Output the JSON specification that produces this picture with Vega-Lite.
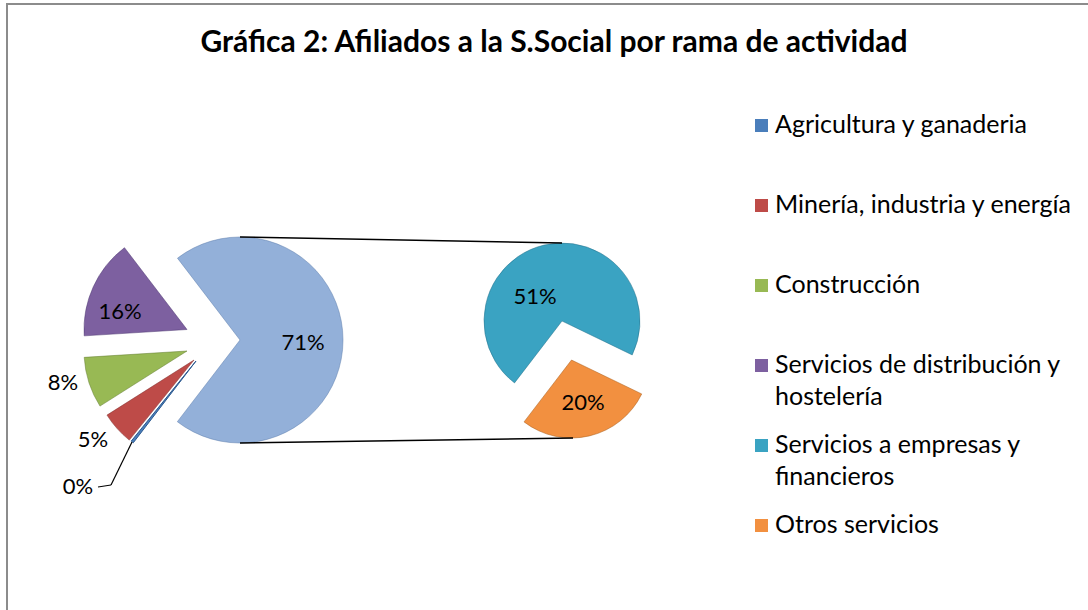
{
  "$schema": "https://vega.github.io/schema/vega-lite/v6.json",
  "width": 1100,
  "height": 620,
  "autosize": {"type": "none"},
  "padding": {"left": 7, "top": 4, "right": 0, "bottom": 0},
  "background": "white",
  "title": {
    "text": "Gráfica 2: Afiliados a la S.Social por rama de actividad",
    "font": "Lato",
    "fontSize": 30,
    "fontWeight": "bold",
    "color": "black",
    "anchor": "middle",
    "frame": "group",
    "baseline": "middle",
    "offset": -69,
    "dx": -3
  },
  "config": {
    "view": {"stroke": "#8c8c8c", "strokeWidth": 2},
    "text": {"font": "Lato", "fontSize": 22, "align": "center", "baseline": "middle"}
  },
  "data": {
    "values": [
      {"rama": "Agricultura y ganaderia", "pie": "principal", "cuota": 0.004},
      {"rama": "Minería, industria y energía", "pie": "principal", "cuota": 0.052},
      {"rama": "Construcción", "pie": "principal", "cuota": 0.080},
      {"rama": "Servicios de distribución y hostelería", "pie": "principal", "cuota": 0.156},
      {"rama": "Servicios a empresas y financieros", "pie": "secundario", "cuota": 0.508},
      {"rama": "Otros servicios", "pie": "secundario", "cuota": 0.200}
    ]
  },
  "transform": [
    {"stack": "cuota", "groupby": [], "as": ["ini", "fin"]},
    {"stack": "cuota", "groupby": ["pie"], "offset": "normalize", "as": ["ini_s", "fin_s"]}
  ],
  "encoding": {
    "x": {"field": "pie", "type": "nominal", "scale": {"type": "point", "domain": ["principal", "secundario"], "range": [233, 555], "padding": 0}, "axis": null},
    "y": {"field": "pie", "type": "nominal", "scale": {"type": "point", "domain": ["principal", "secundario"], "range": [336, 317], "padding": 0}, "axis": null},
    "color": {
      "field": "rama",
      "type": "nominal",
      "scale": {
        "domain": ["Agricultura y ganaderia", "Minería, industria y energía", "Construcción", "Servicios de distribución y hostelería", "Servicios a empresas y financieros", "Otros servicios"],
        "range": ["#4A7EBB", "#BE4B48", "#98B954", "#7D60A0", "#3AA3C2", "#F29040"]
      },
      "legend": {
        "orient": "none",
        "legendX": 742,
        "legendY": 109,
        "title": null,
        "padding": 0,
        "symbolType": "square",
        "symbolSize": 169,
        "symbolStrokeWidth": 0,
        "labelFont": "Lato",
        "labelFontSize": 25,
        "labelColor": "black",
        "labelLimit": 500,
        "labelOffset": 1,
        "labelBaseline": "alphabetic",
        "rowPadding": 22,
        "gridAlign": "all",
        "labelExpr": "datum.label == 'Servicios de distribución y hostelería' ? ['Servicios de distribución y', 'hostelería'] : datum.label == 'Servicios a empresas y financieros' ? ['Servicios a empresas y', 'financieros'] : datum.label",
        "encoding": {"labels": {"dy": {"value": 7}, "lineHeight": {"value": 32}}}
      }
    }
  },
  "layer": [
    {
      "transform": [
        {"filter": "datum.pie == 'secundario'"},
        {"aggregate": [{"op": "min", "field": "ini", "as": "ini"}, {"op": "max", "field": "fin", "as": "fin"}, {"op": "sum", "field": "cuota", "as": "cuota"}]}
      ],
      "encoding": {
        "x": {"datum": "principal", "type": "nominal"},
        "y": {"datum": "principal", "type": "nominal"},
        "color": {"value": "#93B0D9"}
      },
      "layer": [
        {
          "mark": {"type": "arc", "outerRadius": 103, "stroke": "#5f7fae", "strokeOpacity": 0.5, "strokeWidth": 1},
          "encoding": {
            "theta": {"field": "ini", "type": "quantitative", "stack": null, "scale": {"domain": [0, 1], "range": [3.796, 10.079]}},
            "theta2": {"field": "fin"}
          }
        },
        {
          "mark": {"type": "text", "dx": 63, "dy": 3},
          "encoding": {"text": {"field": "cuota", "format": ".0%"}, "color": {"value": "black"}}
        }
      ]
    },
    {
      "transform": [{"filter": "datum.rama == 'Servicios de distribución y hostelería'"}],
      "layer": [
        {
          "mark": {"type": "arc", "outerRadius": 103, "xOffset": -53, "yOffset": -10.5, "stroke": "#4b3570", "strokeOpacity": 0.5, "strokeWidth": 1},
          "encoding": {
            "theta": {"field": "ini", "type": "quantitative", "stack": null, "scale": {"domain": [0, 1], "range": [3.796, 10.079]}},
            "theta2": {"field": "fin"}
          }
        },
        {
          "mark": {"type": "text", "dx": -120, "dy": -28},
          "encoding": {"text": {"field": "cuota", "format": ".0%"}, "color": {"value": "black"}}
        }
      ]
    },
    {
      "transform": [{"filter": "datum.rama == 'Construcción'"}],
      "layer": [
        {
          "mark": {"type": "arc", "outerRadius": 103, "xOffset": -53, "yOffset": 11, "stroke": "#5f7a2c", "strokeOpacity": 0.5, "strokeWidth": 1},
          "encoding": {
            "theta": {"field": "ini", "type": "quantitative", "stack": null, "scale": {"domain": [0, 1], "range": [3.796, 10.079]}},
            "theta2": {"field": "fin"}
          }
        },
        {
          "mark": {"type": "text", "dx": -177, "dy": 43},
          "encoding": {"text": {"field": "cuota", "format": ".0%"}, "color": {"value": "black"}}
        }
      ]
    },
    {
      "transform": [{"filter": "datum.rama == 'Minería, industria y energía'"}],
      "layer": [
        {
          "mark": {"type": "arc", "outerRadius": 103, "xOffset": -46, "yOffset": 20, "stroke": "#7d2a28", "strokeOpacity": 0.5, "strokeWidth": 1},
          "encoding": {
            "theta": {"field": "ini", "type": "quantitative", "stack": null, "scale": {"domain": [0, 1], "range": [3.796, 10.079]}},
            "theta2": {"field": "fin"}
          }
        },
        {
          "mark": {"type": "text", "dx": -147, "dy": 100},
          "encoding": {"text": {"field": "cuota", "format": ".0%"}, "color": {"value": "black"}}
        }
      ]
    },
    {
      "transform": [{"filter": "datum.rama == 'Agricultura y ganaderia'"}],
      "layer": [
        {
          "mark": {"type": "arc", "outerRadius": 103, "xOffset": -44, "yOffset": 21, "stroke": "#2d5a8f", "strokeWidth": 1},
          "encoding": {
            "theta": {"field": "ini", "type": "quantitative", "stack": null, "scale": {"domain": [0, 1], "range": [3.796, 10.079]}},
            "theta2": {"field": "fin"}
          }
        },
        {
          "mark": {"type": "text", "dx": -162, "dy": 147},
          "encoding": {"text": {"field": "cuota", "format": ".0%"}, "color": {"value": "black"}}
        }
      ]
    },
    {
      "transform": [{"filter": "datum.rama == 'Servicios a empresas y financieros'"}],
      "layer": [
        {
          "mark": {"type": "arc", "outerRadius": 78, "stroke": "#23708a", "strokeOpacity": 0.5, "strokeWidth": 1},
          "encoding": {
            "theta": {"field": "ini_s", "type": "quantitative", "stack": null, "scale": {"domain": [0, 1], "range": [3.796, 10.079]}},
            "theta2": {"field": "fin_s"}
          }
        },
        {
          "mark": {"type": "text", "dx": -27, "dy": -24},
          "encoding": {"text": {"field": "cuota", "format": ".0%"}, "color": {"value": "black"}}
        }
      ]
    },
    {
      "transform": [{"filter": "datum.rama == 'Otros servicios'"}],
      "layer": [
        {
          "mark": {"type": "arc", "outerRadius": 78, "xOffset": 9.5, "yOffset": 39, "stroke": "#a85a14", "strokeOpacity": 0.5, "strokeWidth": 1},
          "encoding": {
            "theta": {"field": "ini_s", "type": "quantitative", "stack": null, "scale": {"domain": [0, 1], "range": [3.796, 10.079]}},
            "theta2": {"field": "fin_s"}
          }
        },
        {
          "mark": {"type": "text", "dx": 21, "dy": 82},
          "encoding": {"text": {"field": "cuota", "format": ".0%"}, "color": {"value": "black"}}
        }
      ]
    },
    {
      "transform": [{"aggregate": [{"op": "count", "as": "n"}]}],
      "mark": {"type": "rule", "yOffset": -103, "y2Offset": -78, "strokeWidth": 1.5},
      "encoding": {
        "x": {"datum": "principal", "type": "nominal"},
        "x2": {"datum": "secundario"},
        "y": {"datum": "principal", "type": "nominal"},
        "y2": {"datum": "secundario"},
        "color": {"value": "black"}
      }
    },
    {
      "transform": [{"aggregate": [{"op": "count", "as": "n"}]}],
      "mark": {"type": "rule", "yOffset": 103, "y2Offset": 117, "x2Offset": 11, "strokeWidth": 1.5},
      "encoding": {
        "x": {"datum": "principal", "type": "nominal"},
        "x2": {"datum": "secundario"},
        "y": {"datum": "principal", "type": "nominal"},
        "y2": {"datum": "secundario"},
        "color": {"value": "black"}
      }
    },
    {
      "transform": [{"aggregate": [{"op": "count", "as": "n"}]}],
      "mark": {"type": "rule", "xOffset": -142, "x2Offset": -129, "yOffset": 147, "y2Offset": 145, "strokeWidth": 1.2},
      "encoding": {
        "x": {"datum": "principal", "type": "nominal"},
        "x2": {"datum": "principal"},
        "y": {"datum": "principal", "type": "nominal"},
        "y2": {"datum": "principal"},
        "color": {"value": "black"}
      }
    },
    {
      "transform": [{"aggregate": [{"op": "count", "as": "n"}]}],
      "mark": {"type": "rule", "xOffset": -129, "x2Offset": -108, "yOffset": 145, "y2Offset": 102, "strokeWidth": 1.2},
      "encoding": {
        "x": {"datum": "principal", "type": "nominal"},
        "x2": {"datum": "principal"},
        "y": {"datum": "principal", "type": "nominal"},
        "y2": {"datum": "principal"},
        "color": {"value": "black"}
      }
    }
  ]
}
